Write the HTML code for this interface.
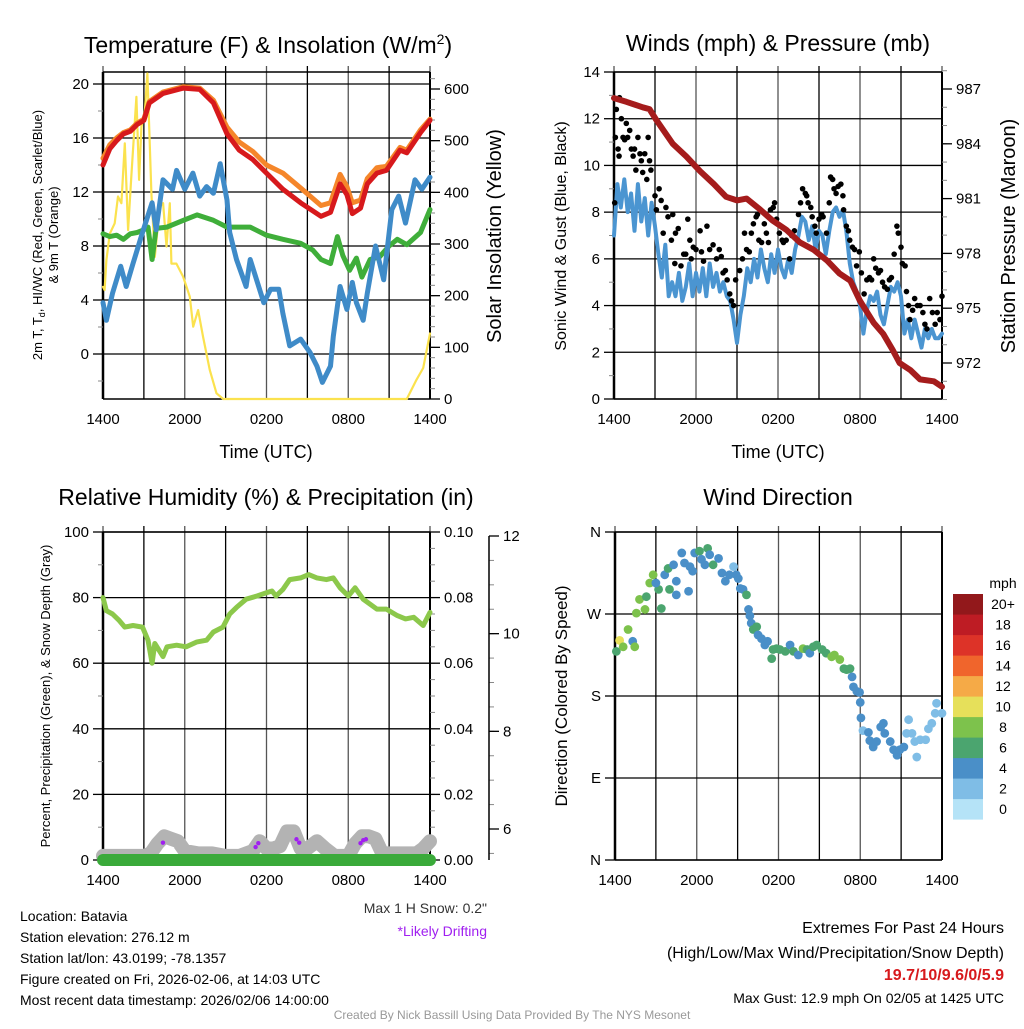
<!DOCTYPE html>
<html><head><meta charset="utf-8"><style>
body{margin:0;background:#fff;width:1024px;height:1024px;overflow:hidden}
svg{font-family:"Liberation Sans",Arial,sans-serif}
</style></head><body>
<svg id="c" width="1024" height="1024" viewBox="0 0 1024 1024" xmlns="http://www.w3.org/2000/svg">
<rect width="1024" height="1024" fill="#fff"/>
<g font-size="23" text-anchor="middle" fill="#000">
<text x="268" y="53">Temperature (F) &amp; Insolation (W/m<tspan font-size="14" dy="-9">2</tspan><tspan dy="9">)</tspan></text>
<text x="778" y="51">Winds (mph) &amp; Pressure (mb)</text>
<text x="266" y="505">Relative Humidity (%) &amp; Precipitation (in)</text>
<text x="778" y="505">Wind Direction</text>
</g>
<g font-size="18" text-anchor="middle">
<text x="266" y="458">Time (UTC)</text>
<text x="778" y="458">Time (UTC)</text>
</g>
<text transform="translate(42,235) rotate(-90)" font-size="13" text-anchor="middle">2m T, T<tspan font-size="9" dy="3">d</tspan><tspan dy="-3">, HI/WC (Red, Green, Scarlet/Blue)</tspan></text>
<text transform="translate(58,235) rotate(-90)" font-size="13" text-anchor="middle">&amp; 9m T (Orange)</text>
<text transform="translate(501,236) rotate(-90)" font-size="20" text-anchor="middle">Solar Insolation (Yellow)</text>
<text transform="translate(566,236) rotate(-90)" font-size="16" text-anchor="middle">Sonic Wind &amp; Gust (Blue, Black)</text>
<text transform="translate(1015,236) rotate(-90)" font-size="20" text-anchor="middle">Station Pressure (Maroon)</text>
<text transform="translate(50,696) rotate(-90)" font-size="13" text-anchor="middle">Percent, Precipitation (Green), &amp; Snow Depth (Gray)</text>
<text transform="translate(567,696) rotate(-90)" font-size="17" text-anchor="middle">Direction (Colored By Speed)</text>
<g font-size="14">
<text x="20" y="921">Location: Batavia</text>
<text x="20" y="942">Station elevation: 276.12 m</text>
<text x="20" y="963">Station lat/lon: 43.0199; -78.1357</text>
<text x="20" y="984">Figure created on Fri, 2026-02-06, at 14:03 UTC</text>
<text x="20" y="1005">Most recent data timestamp: 2026/02/06 14:00:00</text>
<text x="487" y="913" text-anchor="end" fill="#333">Max 1 H Snow: 0.2"</text>
<text x="487" y="936" text-anchor="end" fill="#a020f0">*Likely Drifting</text>
</g>
<g font-size="16" text-anchor="end">
<text x="1004" y="933">Extremes For Past 24 Hours</text>
<text x="1004" y="958">(High/Low/Max Wind/Precipitation/Snow Depth)</text>
<text x="1004" y="980" fill="#d7191c" font-weight="bold">19.7/10/9.6/0/5.9</text>
<text x="1004" y="1003" font-size="14">Max Gust: 12.9 mph On 02/05 at 1425 UTC</text>
</g>
<text x="512" y="1019" font-size="12" fill="#999" text-anchor="middle">Created By Nick Bassill Using Data Provided By The NYS Mesonet</text>
</svg>
<script>
// ---- Temperature panel data ----
const redT=[0,0.5,1,1.5,2,2.5,3,3.4,4.4,5.9,7.1,8.1,9.1,10,11,12,13.2,14.5,16,16.7,17.4,17.9,18.3,18.9,19.4,20.1,20.8,21.8,22.3,23.3,24];
const redV=[14,15.2,15.8,16.3,16.5,17,17.3,18.6,19.3,19.7,19.6,18.6,16.3,15.1,14.4,13.4,12.2,11.2,10.2,10.5,12.6,11.8,10.4,10.8,12.6,13.4,13.6,15.1,14.9,16.4,17.3];
const orgT=[0,0.5,1,1.5,2,2.5,3,3.4,4.4,5.9,7.1,8.1,9.1,10,11,12,13.2,14.5,16,16.7,17.4,17.9,18.3,18.9,19.4,20.1,20.8,21.8,22.3,23.3,24];
const orgV=[14.5,15.5,16,16.4,16.6,17.1,17.4,18.7,19.4,19.8,19.7,18.8,16.8,15.7,15,14,13.4,12.3,11,11.2,13.3,12.4,11.2,11.4,13,13.8,13.9,15.3,15.1,16.6,17.4];
const bluT=[0,0.25,0.7,1.3,1.7,2.2,2.9,3.6,3.9,4.4,5.1,5.4,6,6.6,7.1,7.6,8.1,8.6,9.1,9.3,9.8,10.5,10.8,11.3,11.8,12.3,12.9,13.2,13.7,14.5,15.2,15.7,16.1,16.7,16.9,17.4,17.9,18.3,18.6,19.1,19.4,20,20.6,21.2,21.7,22.2,22.9,23.4,24];
const bluV=[3.8,2.5,4.5,6.5,5,6.7,9,11.2,9.2,12.9,12.2,13.6,12.2,13.4,11.7,12.4,11.9,14.1,11.4,9,7,5,7,5.4,3.8,4.8,4.8,3,0.6,1.1,0.1,-0.9,-2.1,-0.9,1.3,5,3.3,5.3,3.8,2.5,4.5,8,5.5,10.7,11.7,9.7,12.9,12.2,13.1];
const grnT=[0,0.5,1,1.5,2,2.5,3,3.3,3.6,3.9,4.7,5.9,6.9,8.1,9.1,10.8,12,13.2,14.5,15.4,16,16.7,17.2,17.6,18.1,18.6,19,19.6,20.3,21,21.6,22.3,23.3,24];
const grnV=[8.9,8.7,8.8,8.5,8.9,9,9.2,9.4,7,9.3,9.4,9.9,10.3,9.9,9.4,9.4,8.8,8.5,8.2,7.7,7,6.7,8.7,7.3,6.2,7.1,5.7,7,7.2,8,8.5,8.1,9,10.7];
const solT=[0,0.12,0.25,0.5,0.86,1.1,1.35,1.6,1.84,2.08,2.45,2.65,2.82,3.06,3.26,3.55,3.8,4.17,4.41,4.66,4.9,5.02,5.39,5.88,6.37,6.62,6.98,7.35,7.84,8.33,8.82,13,18,22.3,23.0,23.5,24];
const solV=[217,211,269,320,340,392,379,495,327,430,585,424,527,553,630,398,275,372,379,295,379,262,262,237,198,140,172,120,56,11,0,0,0,0,37,60,127];
// ---- Wind panel data ----
const windT=[];for(let i=0;i<=96;i++)windT.push(i/4);
const windV=[7.0,9.2,8.2,9.4,8.0,8.8,7.2,9.2,7.6,8.6,7.0,8.4,7.4,6.2,5.2,6.6,4.4,5.0,4.4,5.4,4.2,4.8,5.8,4.4,5.4,4.6,5.6,4.4,5.8,4.8,5.4,4.6,5.0,4.4,4.2,3.4,2.4,3.6,4.4,5.6,5.0,6.0,5.2,6.4,5.6,5.0,6.2,5.4,6.4,5.6,5.2,6.0,5.4,6.4,7.0,7.8,7.6,6.8,7.4,6.4,7.2,7.0,6.2,7.2,8.0,8.2,7.8,8.1,7.2,5.8,5.0,4.6,4.0,2.8,3.8,4.4,4.2,4.6,3.6,3.2,4.0,4.8,4.6,5.0,4.4,2.8,3.4,2.6,3.4,2.8,2.2,3.0,2.6,3.0,2.6,2.6,2.8];
const gustT=[0.05,0.1,0.17,0.3,0.37,0.4,0.54,0.66,0.78,0.9,1.0,1.15,1.27,1.4,1.5,1.6,1.75,1.9,2.0,2.1,2.25,2.4,2.5,2.6,2.7,3.0,3.1,3.3,3.45,3.6,3.8,3.95,4.2,4.3,4.5,4.45,4.7,4.9,5.1,5.25,5.4,5.55,5.65,5.8,6.0,6.3,6.4,6.55,6.8,7.0,7.25,7.5,7.7,7.85,7.98,8.15,8.28,8.47,8.6,8.75,8.9,9.2,9.4,9.55,9.7,9.9,10.05,10.2,10.4,10.5,10.6,10.8,11.0,11.15,11.3,11.45,11.65,11.75,11.9,12.1,12.3,12.4,12.6,12.85,13.0,13.2,13.5,13.65,13.8,14.0,14.1,14.2,14.4,14.5,14.7,14.8,15.0,15.2,15.3,15.55,15.75,15.85,16.0,16.1,16.25,16.4,16.6,16.75,16.8,17.0,17.15,17.25,17.45,17.6,17.75,17.95,18.1,18.3,18.5,18.7,18.85,19.0,19.15,19.35,19.5,19.65,19.8,20.0,20.15,20.3,20.5,20.7,20.8,21.0,21.1,21.3,21.4,21.55,21.65,21.85,22.0,22.2,22.4,22.6,22.75,22.9,23.1,23.3,23.5,23.65,23.85,24.0];
const gustV=[8.4,11.2,12.4,10.7,10.4,12.9,12,11.2,11.1,11.8,11.2,11.5,10.7,10.4,10.7,9.8,11.2,10.5,10.2,9.7,10.5,9.4,11.2,10.2,9.8,8.7,8.1,9.0,8.5,7.1,8.2,7.8,6.8,7.9,7.1,5.8,7.3,5.7,6.2,6.2,7.7,6.8,6.0,6.5,6.4,7.2,6.3,5.9,7.4,6.4,6.6,6.0,6.4,6.1,5.4,5.5,5.1,4.5,4.2,4.0,5.1,5.5,6.0,7.1,6.4,6.3,7.1,7.5,7.8,7.9,6.8,6.7,7.5,7.1,6.7,8.1,8.2,8.4,7.7,7.1,6.8,6.7,6.8,6.0,7.0,7.2,7.9,8.4,9.0,8.8,8.7,8.4,8.2,7.8,7.4,7.1,7.7,7.9,7.8,7.1,8.4,9.5,9.4,9.0,8.8,9.1,9.2,8.7,8.1,7.4,7.2,6.8,6.5,6.4,5.7,6.3,5.4,4.5,5.1,5.2,5.1,6.0,5.6,5.4,5.5,5.0,4.8,4.7,5.1,5.2,6.2,7.4,7.1,6.5,5.8,5.7,4.6,4.0,3.4,3.8,4.3,4.0,4.0,3.7,3.2,3.0,4.3,3.7,3.2,3.7,3.4,4.4];
const presT=[0,0.9,2.1,2.6,3.1,4.3,5.3,6.3,7.3,8.2,9,9.7,10.7,11.6,12.6,13.6,14.6,15.6,16.5,17.3,18,19,19.7,20.4,20.9,21.7,22.4,23.4,24];
const presV=[986.5,986.3,986.0,985.9,985.3,984,983.3,982.5,981.8,981.1,980.9,981,980.4,979.8,979.3,978.6,978.2,977.6,976.9,976.5,975.4,974.2,973.6,972.7,972.0,971.6,971.1,971.0,970.7];
// ---- Humidity panel data ----
const rhT=[0,0.25,0.7,1.2,1.6,2.2,2.9,3.3,3.6,3.8,4.4,4.7,5.4,6.1,6.9,7.6,8.1,8.8,9.3,9.8,10.5,11.3,12,12.4,12.7,13.2,13.7,14.5,15.1,15.7,16.4,16.9,17.4,18,18.5,19.1,20.1,20.8,21.6,22.2,22.8,23.5,24];
const rhV=[80,76,75,73,71,71.5,71,67,60,66,62,65,65.5,65,66.5,67,69.5,71,75,77,79.5,80.5,81.5,82,80.5,82.5,85.5,86,87,86,85.5,86,83,80.5,83,79.5,76.5,76.5,74.5,73.5,74,71.5,75.5];
const snowT=[0,1,2,3,3.5,4,4.5,5,5.5,6,7,8,9,10,11,11.5,12,12.5,13,13.5,14,14.5,15,15.7,16.3,17,18,18.5,19,19.5,20,20.5,21,22,23,23.5,24];
const snowV=[5.45,5.45,5.45,5.45,5.5,5.7,5.85,5.8,5.75,5.55,5.5,5.5,5.45,5.45,5.55,5.75,5.6,5.6,5.65,5.95,5.95,5.6,5.6,5.75,5.6,5.45,5.45,5.7,5.85,5.85,5.8,5.5,5.5,5.5,5.5,5.6,5.75];
const driftT=[4.4,11.2,11.4,14.2,14.4,18.9,19.1,19.3];
const driftV=[5.72,5.63,5.71,5.79,5.72,5.71,5.77,5.79];
const precipT=[0,24];
const precipV=[0,0];
// ---- Wind direction panel data ----
const dirT=[0.1,0.34,0.6,0.96,1.3,1.45,1.57,1.8,2.2,2.3,2.55,2.8,3.2,3.0,3.4,3.65,3.9,4.0,4.3,4.5,4.5,4.9,5.1,5.4,5.5,5.7,5.85,6.2,6.35,6.6,6.8,6.95,7.2,7.6,7.85,8.1,8.4,8.7,8.9,9.05,9.2,9.4,9.65,9.8,9.9,10,10.15,10.4,10.5,10.75,11,11.2,11.5,11.6,11.85,12.1,12.5,12.85,13.1,13.45,13.8,14.1,14.3,14.55,14.8,15.2,15.5,15.9,16.1,16.5,16.8,17,17.25,17.4,17.5,17.75,17.95,18,18.05,18.2,18.6,18.7,18.95,19.2,19.5,19.7,19.8,20.2,20.45,20.7,20.9,21.2,21.4,21.55,21.8,22,22.15,22.4,22.8,23,23.25,23.5,23.6,24];
const dirV=[229,241,234,253,240,234,271,286,275,289,304,313,297,304,276,313,320,297,324,306,291,337,326,295,322,317,337,339,330,324,342,335,324,331,315,306,313,322,313,309,298,297,291,275,268,260,253,256,247,243,236,240,221,231,232,231,229,236,229,225,232,231,227,234,236,231,227,223,225,220,210,209,210,201,190,185,184,173,156,142,140,131,124,130,146,150,139,130,121,115,121,124,139,154,139,130,113,132,132,144,150,161,172,161];
const dirS=[7,10.5,8,8,4,8,8,8,8,6,8,8,6,4,6,4,6,6,4,4,4,4,4,4,4,4,4,6,4,4,6,4,6,4,4,4,4,2,4,4,4,4,6,4,4,4,6,6,4,4,4,4,6,6,6,6,6,4,6,4,8,6,4,6,6,6,6,8,8,8,6,6,6,4,4,4,4,4,4,2,4,4,4,4,4,4,4,4,4,4,4,4,2,2,2,2,2,2,2,2,2,2,2,2];
const binLabels=["0","2","4","6","8","10","12","14","16","18","20+"];
const binColors=["#b5e3f7","#7fbde6","#4a8fc8","#4ba56f","#7dc24c","#e6e05a","#f5aa47","#f0652c","#dd3328","#be1c24","#92181b"];

const NS="http://www.w3.org/2000/svg";
const svg=document.getElementById('c');
function mk(tag,attrs,name,parent){
  const el=document.createElementNS(NS,tag);
  for(const k in attrs)el.setAttribute(k,attrs[k]);
  
  
  (parent||svg).appendChild(el);return el;
}
function lin(d0,d1,r0,r1){return v=>r0+(v-d0)*(r1-r0)/(d1-d0);}
function poly(ts,vs,xs,ys,color,w,name,g){
  const pts=ts.map((t,i)=>xs(t).toFixed(1)+","+ys(vs[i]).toFixed(1)).join(" ");
  return mk('polyline',{points:pts,fill:'none',stroke:color,'stroke-width':w,'stroke-linejoin':'round','stroke-linecap':'round'},name,g);
}
const xTicks=["1400","2000","0200","0800","1400"];
function frame(p,pre){
  const g=mk('g',{},pre+'-frame');
  const xs=lin(0,24,p.x0,p.x1);
  for(let h=0;h<=24;h+=3){const x=xs(h);mk('line',{x1:x,x2:x,y1:p.y0-6,y2:p.y1,stroke:(h%6==3)?'#000':'#555','stroke-width':1.3},pre+'-vgrid',g);}
  for(let i=0;i<5;i++){const t=mk('text',{x:xs(i*6),y:p.y1+25,'font-size':15,'text-anchor':'middle'},pre+'-x-tick-label',g);t.textContent=xTicks[i];}
  mk('line',{x1:p.x0,x2:p.x0,y1:p.y0,y2:p.y1,stroke:'#000','stroke-width':2.5},pre+'-left-spine',g);
  mk('line',{x1:p.x1,x2:p.x1,y1:p.y0,y2:p.y1,stroke:'#000','stroke-width':2},pre+'-right-spine',g);
  mk('line',{x1:p.x0,x2:p.x1,y1:p.y0,y2:p.y0,stroke:'#000','stroke-width':1.5},pre+'-top-spine',g);
  mk('line',{x1:p.x0,x2:p.x1,y1:p.y1,y2:p.y1,stroke:'#000','stroke-width':1.5},pre+'-bottom-spine',g);
  return {g,xs};
}
function yAxis(g,ys,vals,labels,x,side,grid,p,pre,minor){
  if(minor)minor.forEach(v=>{const y=ys(v);mk('line',{x1:x,x2:x+(side<0?-5:5),y1:y,y2:y,stroke:'#888','stroke-width':1},pre+'-minor-tick',g);});
  vals.forEach((v,i)=>{const y=ys(v);
    if(grid)mk('line',{x1:p.x0,x2:p.x1,y1:y,y2:y,stroke:'#000','stroke-width':1.3},pre+'-hgrid',g);
    mk('line',{x1:x,x2:x+side*10,y1:y,y2:y,stroke:'#000','stroke-width':1.3},pre+'-tick',g);
    const t=mk('text',{x:side<0?x-14:x+14,y:y+5,'font-size':15,'text-anchor':side<0?'end':'start'},pre+'-tick-label',g);t.textContent=labels[i];});
}
function range(a,b,s){const r=[];for(let v=a;v<=b+1e-9;v+=s)r.push(+v.toFixed(4));return r;}
// Panel 1
{const p={x0:103,x1:430,y0:72,y1:399};const f=frame(p,'p1');
 const yl=lin(0,20,354,84), yr=lin(0,600,399,89);
 const lv=[0,4,8,12,16,20];yAxis(f.g,yl,lv,lv.map(String),p.x0,-1,true,p,'p1-left',range(-2,20,2));
 const rv=[0,100,200,300,400,500,600];yAxis(f.g,yr,rv,rv.map(String),p.x1,1,false,p,'p1-right',range(20,620,20));
 poly(solT,solV,f.xs,yr,'#fbe24e',2.2,'solar-insolation-line');
 poly(grnT,grnV,f.xs,yl,'#3fae3a',5,'dewpoint-line');
 poly(bluT,bluV,f.xs,yl,'#3f8bc8',5,'windchill-line');
 poly(orgT,orgV,f.xs,yl,'#f5862a',5,'temp-9m-line');
 poly(redT,redV,f.xs,yl,'#d7191c',5,'temp-2m-line');}
// Panel 2
{const p={x0:614,x1:942,y0:72,y1:399};const f=frame(p,'p2');
 const yl=lin(0,14,399,72), yr=lin(972,987,363,89);
 const lv=[0,2,4,6,8,10,12,14];yAxis(f.g,yl,lv,lv.map(String),p.x0,-1,true,p,'p2-left',range(1,13,2));
 const rv=[972,975,978,981,984,987];yAxis(f.g,yr,rv,rv.map(String),p.x1,1,false,p,'p2-right',range(970,988,1));
 poly(windT,windV,f.xs,yl,'#4b95d1',4,'sonic-wind-line');
 gustT.forEach((t,i)=>{mk('circle',{cx:f.xs(t),cy:yl(gustV[i]),r:2.8,fill:'#000'},'gust-point');});
 poly(presT,presV,f.xs,yr,'#a51c1c',6,'pressure-line');}
// Panel 3
{const p={x0:103,x1:430,y0:532,y1:860};const f=frame(p,'p3');
 const yl=lin(0,100,860,532), yr=lin(0,0.1,860,532), ys=lin(6,12,829,536);
 const lv=[0,20,40,60,80,100];yAxis(f.g,yl,lv,lv.map(String),p.x0,-1,true,p,'p3-left',range(10,90,20));
 const rv=[0,0.02,0.04,0.06,0.08,0.1];yAxis(f.g,yr,rv,rv.map(v=>v.toFixed(2)),p.x1,1,false,p,'p3-right',range(0.005,0.1,0.005));
 mk('line',{x1:489,x2:489,y1:536,y2:860,stroke:'#000','stroke-width':1.5},'snow-axis-spine');
 const sv=[6,8,10,12];yAxis(f.g,ys,sv,sv.map(String),489,1,false,p,'snow-axis',range(5.5,11.5,0.5));
 poly(snowT,snowV,f.xs,ys,'#b3b3b3',14,'snow-depth-line');
 driftT.forEach((t,i)=>{mk('circle',{cx:f.xs(t),cy:ys(driftV[i]),r:2.2,fill:'#a020f0'},'drifting-point');});
 poly(precipT,precipV,f.xs,yr,'#3aaa3a',12,'precipitation-line');
 poly(rhT,rhV,f.xs,yl,'#8cc84b',5,'relative-humidity-line');}
// Panel 4
{const p={x0:615,x1:942,y0:532,y1:860};const f=frame(p,'p4');
 const yd=lin(0,360,860,532);
 const dv=[0,90,180,270,360];yAxis(f.g,yd,dv,["N","E","S","W","N"],p.x0,-1,true,p,'p4-left',null);
 dirT.forEach((t,i)=>{const b=Math.min(10,Math.floor(dirS[i]/2));
   mk('circle',{cx:f.xs(t),cy:yd(dirV[i]),r:4.4,fill:binColors[b]},'direction-point');});
 const lt=mk('text',{x:1003,y:588,'font-size':14,'text-anchor':'middle'},'colorbar-title');lt.textContent='mph';
 for(let i=0;i<11;i++){const y=594+(10-i)*20.5;
   mk('rect',{x:953,y:y,width:30,height:20.6,fill:binColors[i]},'colorbar-box');
   const t=mk('text',{x:1003,y:y+15,'font-size':14,'text-anchor':'middle'},'colorbar-label');t.textContent=binLabels[i];}}
</script>
</body></html>
